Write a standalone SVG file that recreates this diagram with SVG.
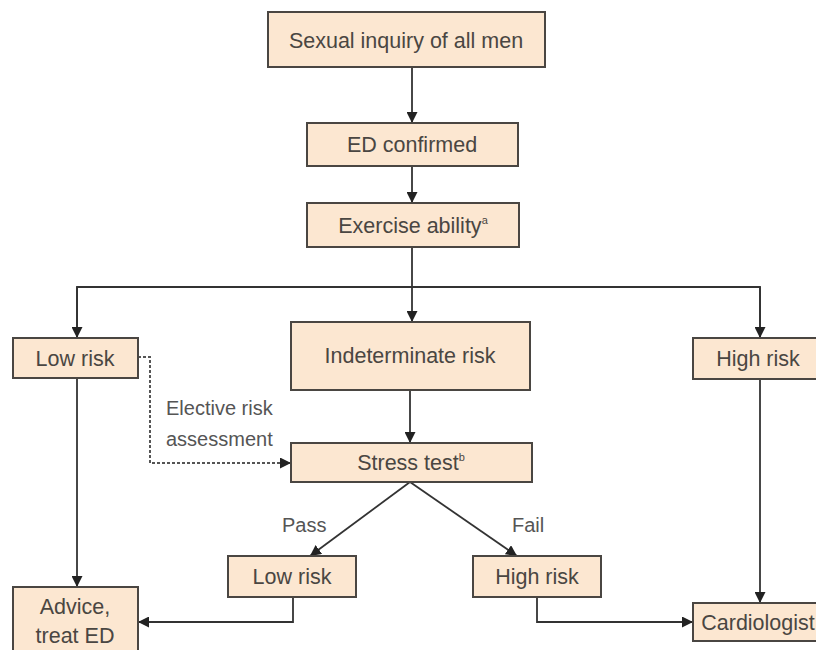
<svg xmlns="http://www.w3.org/2000/svg" width="816" height="650" viewBox="0 0 816 650">
<style>
.box{fill:#fce7d1;stroke:#4a4642;stroke-width:2}
.t{font-family:"Liberation Sans",Arial,sans-serif;font-size:21.5px;fill:#4a4642;text-anchor:middle}
.l{font-family:"Liberation Sans",Arial,sans-serif;font-size:20px;fill:#555;}
.c{fill:none;stroke:#333;stroke-width:1.8}
.d{fill:none;stroke:#555;stroke-width:2;stroke-dasharray:3 2}
</style>
<defs>
<marker id="ah" viewBox="0 0 10 10" refX="10" refY="5" markerWidth="11" markerHeight="11" markerUnits="userSpaceOnUse" orient="auto">
<path d="M0,0 L10,5 L0,10 Z" fill="#222"/>
</marker>
</defs>
<rect width="816" height="650" fill="#fff"/>
<g id="connectors">
<path class="c" d="M412,67 V123" marker-end="url(#ah)"/>
<path class="c" d="M412,166 V203" marker-end="url(#ah)"/>
<path class="c" d="M412,247 V322" marker-end="url(#ah)"/>
<path class="c" d="M77,338 V287 H760 V338" />
<path class="c" d="M77,287 V338" marker-end="url(#ah)"/>
<path class="c" d="M760,287 V338" marker-end="url(#ah)"/>
<path class="c" d="M410,390 V443" marker-end="url(#ah)"/>
<path class="d" d="M138,357 H150 V463 H291" marker-end="url(#ah)"/>
<path class="c" d="M77,378 V587" marker-end="url(#ah)"/>
<path class="c" d="M760,379 V603" marker-end="url(#ah)"/>
<path class="c" d="M410,482 L310,556" marker-end="url(#ah)"/>
<path class="c" d="M410,482 L517,556" marker-end="url(#ah)"/>
<path class="c" d="M293,597 V622 H138" marker-end="url(#ah)"/>
<path class="c" d="M537,597 V622 H693" marker-end="url(#ah)"/>
<text class="l" x="166" y="415">Elective risk</text>
<text class="l" x="166" y="446">assessment</text>
<text class="l" x="282" y="532">Pass</text>
<text class="l" x="512" y="532">Fail</text>
</g>
<g id="n1"><rect class="box" x="268" y="12" width="277" height="55"/><text class="t" x="406" y="48">Sexual inquiry of all men</text></g>
<g id="n2"><rect class="box" x="307" y="123" width="211" height="43"/><text class="t" x="412" y="152">ED confirmed</text></g>
<g id="n3"><rect class="box" x="307" y="203" width="212" height="44"/><text class="t" x="413" y="233">Exercise ability<tspan font-size="11" dy="-9">a</tspan></text></g>
<g id="n4"><rect class="box" x="13" y="338" width="125" height="40"/><text class="t" x="75" y="366">Low risk</text></g>
<g id="n5"><rect class="box" x="291" y="322" width="239" height="68"/><text class="t" x="410" y="363">Indeterminate risk</text></g>
<g id="n6"><rect class="box" x="693" y="338" width="130" height="41"/><text class="t" x="758" y="366">High risk</text></g>
<g id="n7"><rect class="box" x="291" y="443" width="241" height="39"/><text class="t" x="411" y="470">Stress test<tspan font-size="11" dy="-9">b</tspan></text></g>
<g id="n8"><rect class="box" x="228" y="556" width="128" height="41"/><text class="t" x="292" y="584">Low risk</text></g>
<g id="n9"><rect class="box" x="473" y="556" width="128" height="41"/><text class="t" x="537" y="584">High risk</text></g>
<g id="n10"><rect class="box" x="13" y="587" width="125" height="70"/><text class="t" x="75" y="614">Advice,</text><text class="t" x="75" y="643">treat ED</text></g>
<g id="n11"><rect class="box" x="693" y="603" width="130" height="38"/><text class="t" x="758" y="630">Cardiologist</text></g>
</svg>
